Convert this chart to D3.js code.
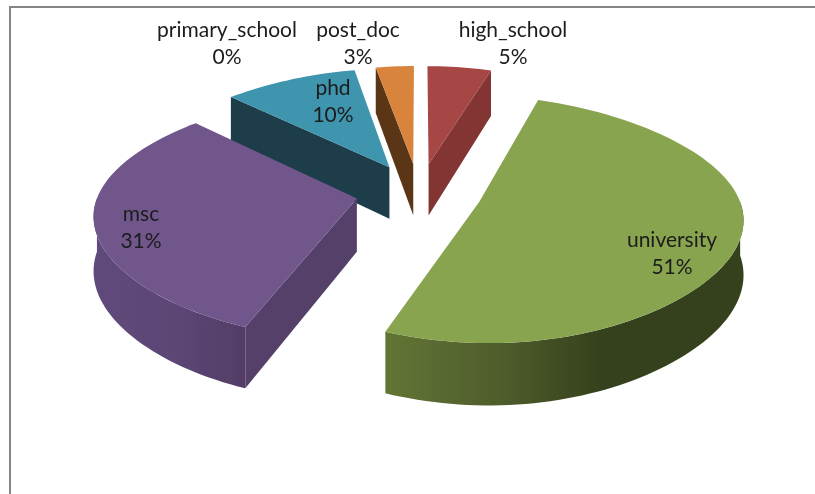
<!DOCTYPE html>
<meta charset="utf-8">
<style>
body { margin: 0; background: #fff; }
svg { display: block; }
text { font-family: Lato, sans-serif; font-size: 21px; fill: #1c1c1c; text-anchor: middle; }
</style>
<body>
<script src="https://d3js.org/d3.v7.min.js"></script>
<script>

// chart data, starts at 12 o'clock and runs clockwise
const categories = ["high_school", "university", "msc", "phd", "post_doc", "primary_school"];
const shares = [5, 51, 31, 10, 3, 0];

const topColors = ["#a64644", "#88a44f", "#6f568b", "#3f95ae", "#d9843c", "#bbbbbb"];
const sideColors = ["#823433", "#36411c", "#543f69", "#1b3c49", "#5a3517", "#888888"];
const wallStops = {
  university: [[0, "#627534"], [0.33, "#4e5c2b"], [0.6, "#36411c"], [1, "#36411c"]],
  msc: [[0, "#604a7b"], [0.6, "#5a4574"], [1, "#523d66"]]
};

// label centres, [x, y of first line]
const labelPos = [[513, 37], [672, 247], [141, 221], [333, 95], [358, 37], [227, 37]];

const width = 815, height = 494;

// fake 3d: pie lies on a plane, radius 1, seen in perspective
// squash pulls the rim in a little near 12 and 6 o'clock, as in the original
const cam = { vx: 419, yc: 192, R: 258, A: 859, d: 7.24, depth: 53, explode: 0.245, squash: 0.08 };

function project(X, Y, Z) {
  var s = cam.d / (cam.d + Y);
  return [cam.vx + X * cam.R * s, cam.yc + cam.A * (s - 1) + Z * cam.depth * s];
}

var pie = d3.pie().sort(null).value(d => d);
var fmt = d3.format(".0%");
var total = d3.sum(shares);
var line = d3.line();

var slices = pie(shares).map(function(p, i) {
  var mid = (p.startAngle + p.endAngle) / 2;
  return {
    name: categories[i], share: shares[i], i: i,
    a0: p.startAngle, a1: p.endAngle, mid: mid,
    ox: Math.sin(mid) * cam.explode,
    oy: Math.cos(mid) * cam.explode
  };
});

function rim(s, t, Z) {
  var c = Math.cos(t);
  return project(s.ox + Math.sin(t) * (1 - cam.squash * c * c), s.oy + c, Z);
}
function apex(s, Z) { return project(s.ox, s.oy, Z); }

function arcAngles(a0, a1) {
  var n = Math.max(2, Math.ceil((a1 - a0) / 0.03));
  return d3.range(n + 1).map(k => a0 + (a1 - a0) * k / n);
}

function topPath(s) {
  var pts = [apex(s, 0)].concat(arcAngles(s.a0, s.a1).map(t => rim(s, t, 0)));
  return line(pts) + "Z";
}

// only the part of the outer wall that faces the viewer
function wallPath(s) {
  var from = Math.max(s.a0, Math.PI / 2), to = Math.min(s.a1, Math.PI * 1.5);
  if (to <= from) return null;
  var ang = arcAngles(from, to);
  var pts = ang.map(t => rim(s, t, 0)).concat(ang.slice().reverse().map(t => rim(s, t, 1)));
  return line(pts) + "Z";
}

// radial cut faces, shown when the wedge sits above the edge on screen
function cutPaths(s) {
  var a = apex(s, 0), inner = rim(s, s.mid, 0), out = [];
  [s.a0, s.a1].forEach(function(t) {
    var r = rim(s, t, 0);
    if (Math.abs(r[0] - a[0]) < 2) return;
    var yAt = a[1] + (r[1] - a[1]) * (inner[0] - a[0]) / (r[0] - a[0]);
    if (inner[1] < yAt) out.push(line([a, r, rim(s, t, 1), apex(s, 1)]) + "Z");
  });
  return out;
}

var svg = d3.select("body").append("svg")
  .attr("width", width)
  .attr("height", height);

var defs = svg.append("defs");
defs.append("filter").attr("id", "soft")
  .append("feGaussianBlur").attr("stdDeviation", 0.45);

Object.keys(wallStops).forEach(function(name) {
  defs.append("linearGradient").attr("id", "wall-" + name)
    .selectAll("stop")
    .data(wallStops[name])
    .enter().append("stop")
    .attr("offset", d => d[0])
    .attr("stop-color", d => d[1]);
});

svg.append("path")
  .attr("d", line([[10, height], [10, 7], [width, 7]]))
  .attr("fill", "none")
  .attr("stroke", "#858585")
  .attr("stroke-width", 2);

var chart = svg.append("g").attr("filter", "url(#soft)");

// far slices first
var drawn = slices.filter(d => d.share > 0).sort((a, b) => b.oy - a.oy);

var slice = chart.selectAll(".slice")
  .data(drawn)
  .enter().append("g")
  .attr("class", "slice");

slice.selectAll(".cut")
  .data(d => cutPaths(d).map(p => ({ p: p, i: d.i })))
  .enter().append("path")
  .attr("class", "cut")
  .attr("d", d => d.p)
  .attr("fill", d => sideColors[d.i]);

slice.filter(d => wallPath(d) !== null)
  .append("path")
  .attr("class", "wall")
  .attr("d", wallPath)
  .attr("fill", d => wallStops[d.name] ? "url(#wall-" + d.name + ")" : sideColors[d.i]);

slice.append("path")
  .attr("class", "top")
  .attr("d", topPath)
  .attr("fill", d => topColors[d.i]);

var labels = chart.selectAll(".label")
  .data(slices)
  .enter().append("g")
  .attr("class", "label")
  .attr("transform", d => "translate(" + labelPos[d.i] + ")");

labels.append("text").text(d => d.name);
labels.append("text").attr("y", 27).text(d => fmt(d.share / total));

</script>
</body>
